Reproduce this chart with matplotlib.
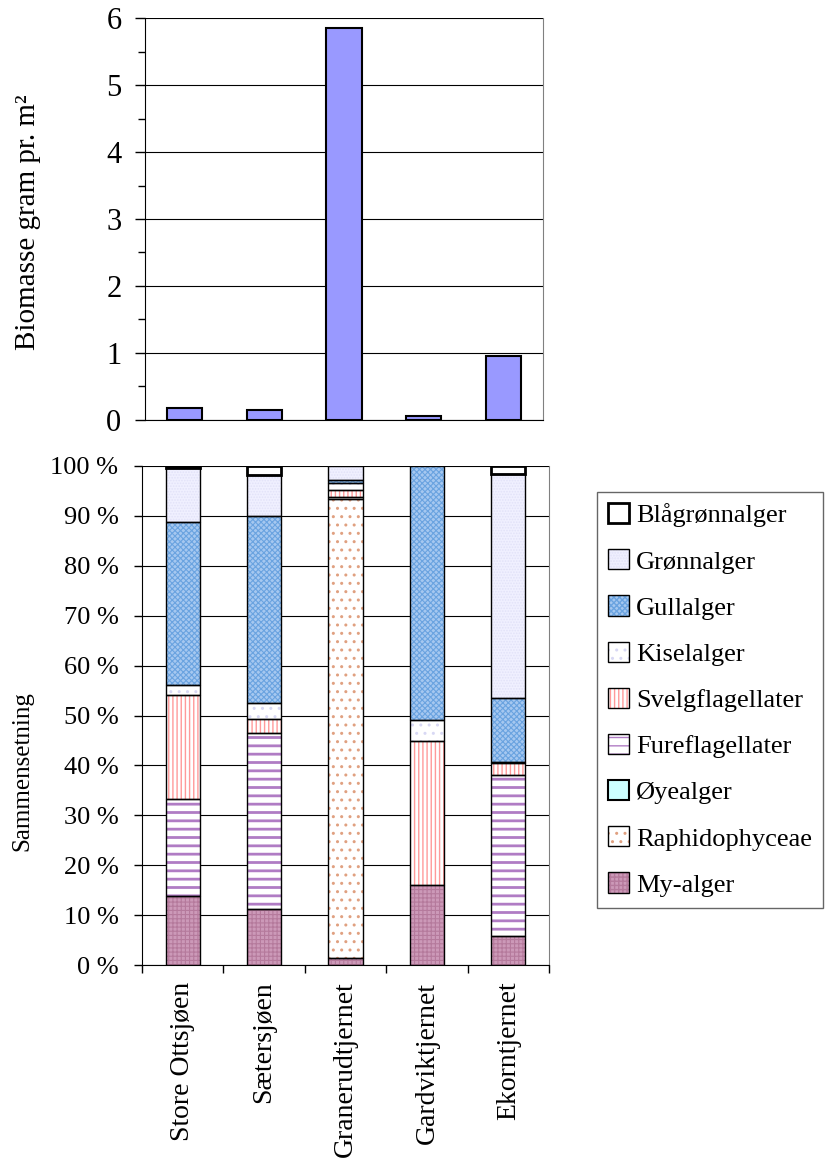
import matplotlib
matplotlib.use("Agg")
import matplotlib.pyplot as plt
from matplotlib.patches import Patch
from matplotlib.legend_handler import HandlerTuple
import numpy as np

plt.rcParams['font.family'] = ['Liberation Serif', 'DejaVu Serif']
plt.rcParams['hatch.linewidth'] = 1.0

categories = ['Store Ottsjøen', 'Sætersjøen', 'Granerudtjernet', 'Gardviktjernet', 'Ekorntjernet']
biomass = [0.18, 0.15, 5.85, 0.06, 0.96]

my_alger = [13.9, 11.2, 1.5, 16.0, 5.9]
raphido = [0.0, 0.0, 91.9, 0.0, 0.0]
oyealger = [0.0, 0.0, 0.0, 0.0, 0.0]
fureflag = [19.4, 35.3, 0.3, 0.0, 32.2]
svelgflag = [20.9, 2.7, 1.5, 28.9, 2.3]
kiselalger = [2.0, 3.3, 1.3, 4.1, 0.2]
gullalger = [32.5, 37.4, 0.7, 51.0, 13.0]
gronnalger = [10.9, 8.2, 2.8, 0.0, 44.8]
blaagronn = [0.4, 1.9, 0.0, 0.0, 1.6]

series = [
    ('My-alger', my_alger),
    ('Raphidophyceae', raphido),
    ('Øyealger', oyealger),
    ('Fureflagellater', fureflag),
    ('Svelgflagellater', svelgflag),
    ('Kiselalger', kiselalger),
    ('Gullalger', gullalger),
    ('Grønnalger', gronnalger),
    ('Blågrønnalger', blaagronn),
]

# face, hatch, hatch colour, outline width, hatch linewidth
styles = {
    'My-alger': ('#CC99B8', '++++', '#B57A9C', 1.0, 0.8),
    'Raphidophyceae': ('#FFFFFF', '..', '#E0A080', 1.0, 1.0),
    'Øyealger': ('#CCFFFF', None, None, 1.5, 1.0),
    'Fureflagellater': ('#FFFFFF', '--', '#B07CC4', 1.0, 2.0),
    'Svelgflagellater': ('#FFFFFF', '||||', '#FF9A9A', 1.0, 1.0),
    'Kiselalger': ('#FFFFFF', '..', '#D8D8F4', 1.0, 1.0),
    'Gullalger': ('#A6C8F0', 'xxxxxx', '#6AA3E0', 1.0, 0.8),
    'Grønnalger': ('#F0F0FF', '......', '#E2E2F8', 1.0, 0.8),
    'Blågrønnalger': ('#FFFFFF', None, None, 2.0, 1.0),
}

W, H = 829, 1160
fig = plt.figure(figsize=(W / 100, H / 100), dpi=100)

# ---------- top chart ----------
ax1 = fig.add_axes([145 / W, (H - 420) / H, 398 / W, 402 / H])
x = np.arange(len(categories))
ax1.bar(x, biomass, width=0.44, color='#9999FF', edgecolor='black', linewidth=1.5, zorder=3)
ax1.set_xlim(-0.5, len(categories) - 0.5)
ax1.set_ylim(0, 6)
ax1.set_yticks(np.arange(0, 7, 1))
ax1.set_yticks(np.arange(0.5, 6, 1), minor=True)
ax1.set_xticks([])
ax1.yaxis.grid(True, which='major', color='black', linewidth=0.8, zorder=0)
ax1.set_axisbelow(True)
ax1.spines['top'].set_visible(False)
ax1.spines['right'].set_color('#808080')
ax1.tick_params(axis='y', which='major', direction='out', length=7, width=1, labelsize=22, pad=10)
ax1.tick_params(axis='y', which='minor', direction='out', length=5, width=1)
fig.text(28 / W, (H - 222) / H, 'Biomasse gram pr. m²', rotation=90, ha='center', va='center', fontsize=21)

# ---------- bottom chart ----------
ax2 = fig.add_axes([142 / W, (H - 965) / H, 407 / W, 499 / H])
bottom = np.zeros(len(categories))
for name, vals in series:
    vals = np.array(vals, dtype=float)
    face, hatch, hcol, lw, hlw = styles[name]
    with plt.rc_context({'hatch.linewidth': hlw}):
        if hatch:
            ax2.bar(x, vals, width=0.42, bottom=bottom, color=face, edgecolor=hcol, hatch=hatch, linewidth=0, zorder=3)
        else:
            ax2.bar(x, vals, width=0.42, bottom=bottom, color=face, linewidth=0, zorder=3)
    mask = vals > 0
    ax2.bar(x[mask], vals[mask], width=0.42, bottom=bottom[mask], fill=False, edgecolor='black', linewidth=lw, zorder=4)
    bottom += vals

ax2.set_xlim(-0.5, len(categories) - 0.5)
ax2.set_ylim(0, 100)
ax2.set_yticks(np.arange(0, 101, 10))
ax2.set_yticklabels([f'{v} %' for v in range(0, 101, 10)])
ax2.yaxis.grid(True, color='black', linewidth=0.8, zorder=0)
ax2.set_axisbelow(True)
ax2.spines['top'].set_visible(False)
ax2.spines['right'].set_color('#808080')
ax2.set_xticks(x)
ax2.set_xticklabels(categories, rotation=90, fontsize=20)
ax2.set_xticks(np.arange(-0.5, len(categories), 1), minor=True)
ax2.tick_params(axis='x', which='major', length=0, pad=12)
ax2.tick_params(axis='x', which='minor', direction='out', length=6, width=1)
ax2.tick_params(axis='y', which='major', direction='out', length=6, width=1, labelsize=19, pad=11)
fig.text(22 / W, (H - 771) / H, 'Sammensetning', rotation=90, ha='center', va='center', fontsize=18)

# ---------- legend ----------
handles = []
labels = []
for name, vals in reversed(series):
    face, hatch, hcol, lw, hlw = styles[name]
    with plt.rc_context({'hatch.linewidth': hlw}):
        if hatch:
            p1 = Patch(facecolor=face, edgecolor=hcol, hatch=hatch, linewidth=0)
        else:
            p1 = Patch(facecolor=face, linewidth=0)
    p2 = Patch(fill=False, edgecolor='black', linewidth=lw)
    handles.append((p1, p2))
    labels.append(name)

leg = fig.legend(handles, labels, handler_map={tuple: HandlerTuple(ndivide=1, pad=0)},
                 loc='upper left', bbox_to_anchor=(597 / W, (H - 492) / H),
                 fontsize=19, frameon=True, fancybox=False, edgecolor='#404040',
                 handlelength=0.8, handleheight=0.8, handletextpad=0.25,
                 labelspacing=0.83, borderpad=0.42, borderaxespad=0)
leg.get_frame().set_linewidth(1.0)

fig.savefig('out.png', dpi=100)
